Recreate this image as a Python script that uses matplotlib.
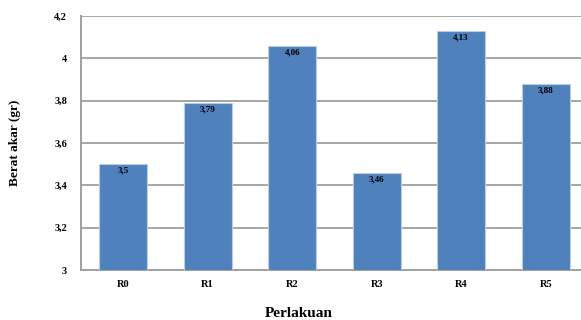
import matplotlib.pyplot as plt

# root weight per treatment
treatments = ['R0', 'R1', 'R2', 'R3', 'R4', 'R5']
weights = [3.5, 3.79, 4.06, 3.46, 4.13, 3.88]
yticks = [3, 3.2, 3.4, 3.6, 3.8, 4, 4.2]

plt.rcParams['font.family'] = 'Liberation Serif'
plt.rcParams['font.weight'] = 'bold'

fig = plt.figure(figsize=(5.81, 3.2), dpi=100)
ax = fig.add_axes([0.1394, 0.156, 1.012 - 0.1394, 0.794])

x = range(len(treatments))
bars = ax.bar(x, weights, width=0.57, color='#4F81BD', edgecolor='#B9CDE5',
              linewidth=0.8, zorder=3)

for xi, v in zip(x, weights):
    lbl = ('%g' % v).replace('.', ',')
    ax.text(xi, v - 0.012, lbl, ha='center', va='top', fontsize=6.5,
            fontweight='bold', zorder=4)

ax.set_ylim(3, 4.2)
ax.set_xlim(-0.5, 5.5)
ax.set_yticks(yticks)
ax.set_yticklabels([('%g' % t).replace('.', ',') for t in yticks], fontsize=7.5)
ax.set_xticks(list(x))
ax.set_xticklabels(treatments, fontsize=7.5)
ax.tick_params(axis='x', length=0, pad=7)
ax.tick_params(axis='y', length=0, pad=10)

ax.yaxis.grid(True, color='#A6A6A6', linewidth=1.4, zorder=0)
for s in ['top', 'right']:
    ax.spines[s].set_visible(False)
for s in ['left', 'bottom']:
    ax.spines[s].set_color('#A0A0A0')
    ax.spines[s].set_linewidth(1.4)

ax.set_ylabel('Berat akar (gr)', fontsize=9.5, fontweight='bold', labelpad=24)
fig.text(0.515, 0.0, 'Perlakuan', ha='center', va='bottom', fontsize=11,
         fontweight='bold')

fig.savefig('out.png', dpi=100)
